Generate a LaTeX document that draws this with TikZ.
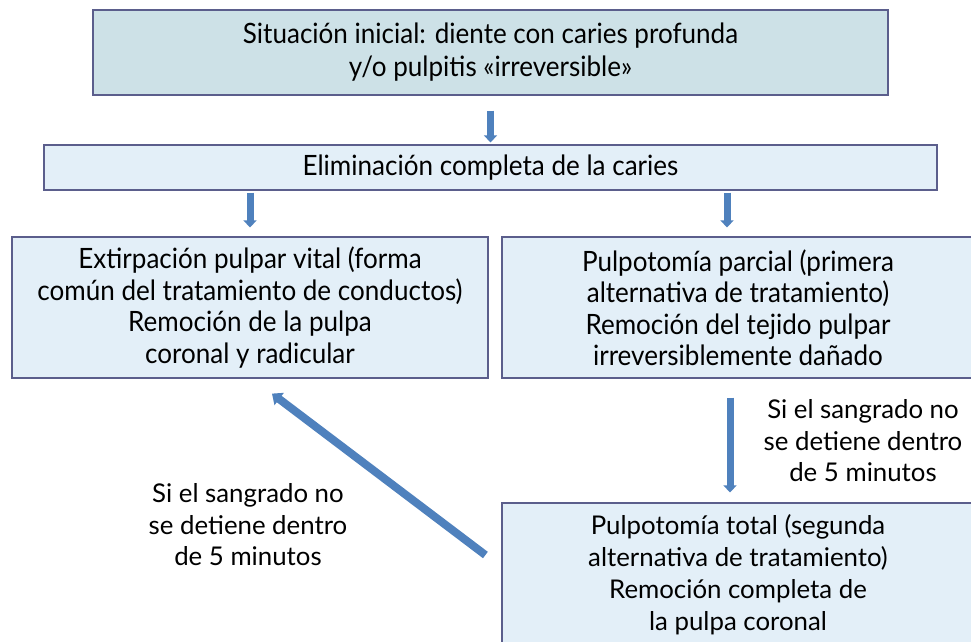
\documentclass[tikz,border=0pt]{standalone}
\usepackage{fontspec}
\setmainfont{Lato}
\newfontfamily\condfont[FakeStretch=0.93]{Lato}
\usetikzlibrary{arrows.meta}
\definecolor{boxedge}{HTML}{5B5E8C}
\definecolor{topfill}{HTML}{CDE1E7}
\definecolor{boxfill}{HTML}{E3EFF8}
\definecolor{arrowblue}{HTML}{4F81BD}
\tikzset{
  boxbase/.style={draw=boxedge, line width=1.2pt, inner sep=0pt, align=center, text=black},
  topbox/.style={boxbase, fill=topfill, font=\condfont\fontsize{28}{33}\selectfont},
  flowbox/.style={boxbase, fill=boxfill, font=\condfont\fontsize{28}{31.5}\selectfont},
  lowbox/.style={boxbase, fill=boxfill, font=\fontsize{25.8}{32}\selectfont},
  note/.style={align=center, font=\fontsize{25.8}{31.5}\selectfont, inner sep=0pt},
  arr/.style={draw=arrowblue, line width=7pt, -{Triangle[width=13pt,length=7pt]}},
}
\begin{document}
\begin{tikzpicture}[x=1pt,y=-1pt]
\useasboundingbox (0,0) rectangle (971,641);
\clip (0,0) rectangle (971,641);
\fill[white] (0,0) rectangle (971,641);

\node[topbox, minimum width=795pt, minimum height=85pt] (init) at (490.5,52.5)
  {Situación inicial: diente con caries profunda\\y/o pulpitis «irreversible»};
\node[flowbox, minimum width=893pt, minimum height=45pt] (elim) at (490.5,167.5)
  {Eliminación completa de la caries};
\node[flowbox, minimum width=476pt, minimum height=141pt] (left) at (250,307.5)
  {Extirpación pulpar vital (forma\\común del tratamiento de conductos)\\Remoción de la pulpa\\coronal y radicular};
\node[flowbox, minimum width=472pt, minimum height=141pt] (right) at (738,307.5)
  {Pulpotomía parcial (primera\\alternativa de tratamiento)\\Remoción del tejido pulpar\\irreversiblemente dañado};
\node[lowbox, minimum width=472pt, minimum height=144pt] (total) at (738,575)
  {Pulpotomía total (segunda\\alternativa de tratamiento)\\Remoción completa de\\la pulpa coronal};

\node[note] (noteR) at (863,441) {Si el sangrado no\\se detiene dentro\\de 5 minutos};
\node[note] (noteL) at (248,525) {Si el sangrado no\\se detiene dentro\\de 5 minutos};

\draw[arr] ([yshift=-15pt]init.south) -- ([yshift=2pt]elim.north);
\draw[arr] ([yshift=-2pt]elim.south -| left.north) -- ([yshift=9pt]left.north);
\draw[arr] ([xshift=-11pt,yshift=-2pt]elim.south -| right.north) -- ([xshift=-11pt,yshift=9pt]right.north);
\draw[arr] ([xshift=-8pt,yshift=-19pt]right.south) -- ([xshift=-8pt,yshift=10pt]total.north);
\draw[arr, line width=8pt, -{Triangle[width=15pt,length=9pt]}] ([xshift=-16pt,yshift=20pt]total.west) -- ([xshift=22pt,yshift=-15pt]left.south);
\end{tikzpicture}
\end{document}
